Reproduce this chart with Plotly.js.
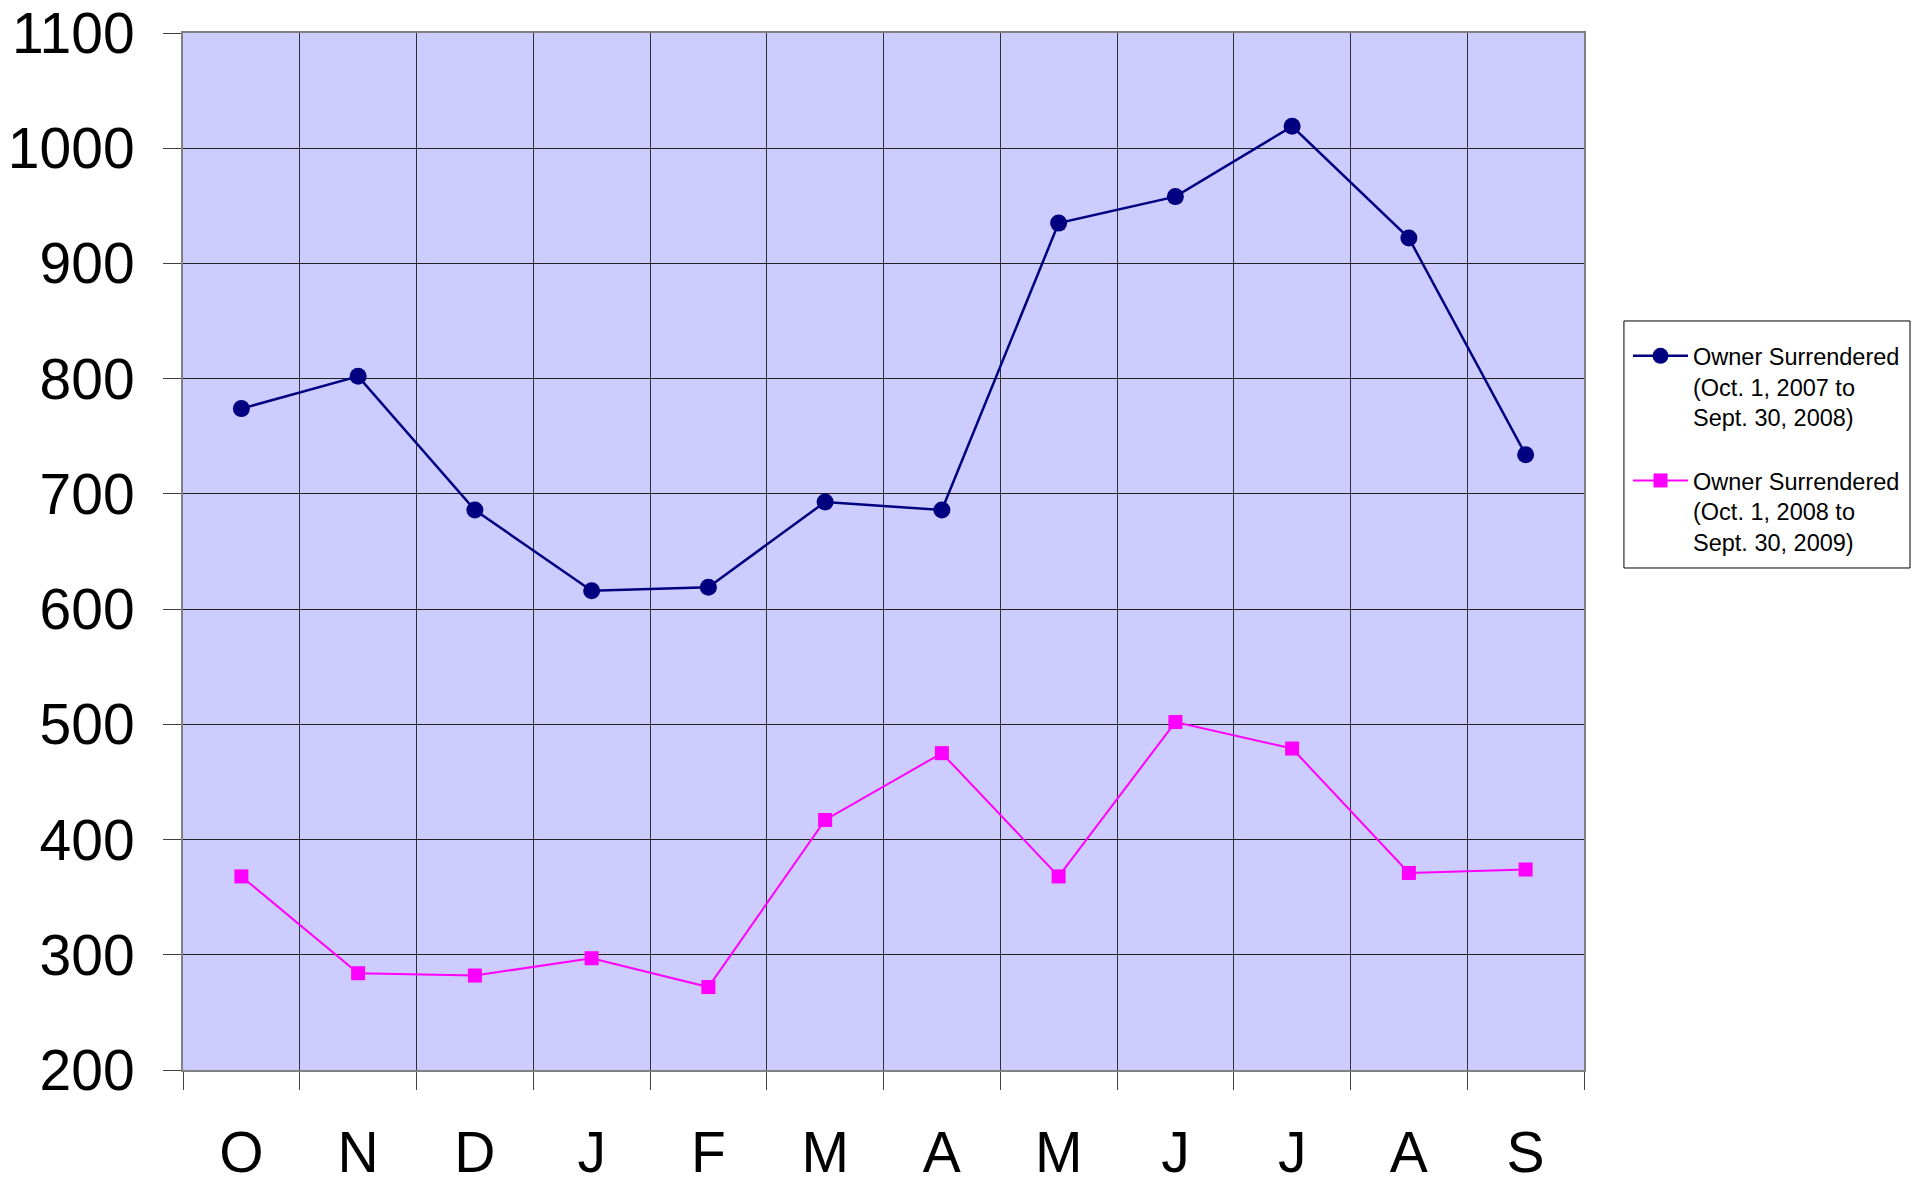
<!DOCTYPE html>
<html>
<head>
<meta charset="utf-8">
<script src="https://cdn.plot.ly/plotly-3.0.1.min.js"></script>
<style>
  html, body { margin: 0; padding: 0; background: #ffffff; }
  #chart { width: 1928px; height: 1178px; }
</style>
</head>
<body>
<div id="chart"></div>
<script>
const months = ["O", "N", "D", "J", "F", "M", "A", "M", "J", "J", "A", "S"];
const monthKeys = ["Oct", "Nov", "Dec", "Jan", "Feb", "Mar", "Apr", "May", "Jun", "Jul", "Aug", "Sep"];
const surrendered0708 = [774, 802, 686, 616, 619, 693, 686, 935, 958, 1019, 922, 734];
const surrendered0809 = [368, 284, 282, 297, 272, 417, 475, 368, 502, 479, 371, 374];
const name0708 = "Owner Surrendered<br>(Oct. 1, 2007 to<br>Sept. 30, 2008)";
const name0809 = "Owner Surrendered<br>(Oct. 1, 2008 to<br>Sept. 30, 2009)";
const yTicks = [200, 300, 400, 500, 600, 700, 800, 900, 1000, 1100];

const FONT = "Liberation Sans, Arial, sans-serif";

const traces = [
  {
    x: monthKeys, y: surrendered0708, name: name0708,
    type: "scatter", mode: "lines+markers", legendgroup: "a",
    line: { color: "#000080", width: 2.5 },
    marker: { color: "#000080", symbol: "circle", size: 17 }
  },
  {
    x: monthKeys, y: surrendered0809, name: name0809,
    type: "scatter", mode: "lines+markers", legendgroup: "b",
    line: { color: "#FF00FF", width: 2 },
    marker: { color: "#FF00FF", symbol: "square", size: 14 }
  }
];

const layout = {
  width: 1928, height: 1178,
  margin: { l: 183, r: 344, t: 33, b: 108, pad: 0 },
  paper_bgcolor: "#ffffff",
  plot_bgcolor: "#CCCCFF",
  font: { family: FONT, color: "#000000" },
  showlegend: true,
  legend: {
    x: 1.0314, y: 0.7097, xanchor: "left", yanchor: "top",
    borderwidth: 0, bgcolor: "rgba(0,0,0,0)",
    font: { family: FONT, size: 23.5, color: "#000000" },
    valign: "top", tracegroupgap: 30, traceorder: "grouped",
    itemwidth: 55
  },
  shapes: [
    {
      type: "rect", xref: "paper", yref: "paper",
      x0: 1.0285, x1: 1.2327, y0: 0.4841, y1: 0.7223,
      line: { color: "#000000", width: 1 },
      fillcolor: "rgba(0,0,0,0)", layer: "above"
    }
  ],
  xaxis: {
    type: "category",
    range: [-0.5, 11.5],
    tickvals: monthKeys, ticktext: months,
    tickson: "boundaries",
    ticks: "outside", ticklen: 18, tickwidth: 1, tickcolor: "#404040",
    showgrid: true, gridcolor: "#303030", gridwidth: 1,
    showline: true, linecolor: "#808080", linewidth: 2, mirror: true,
    tickfont: { family: FONT, size: 57, color: "#000000" },
    ticklabelstandoff: 32,
    zeroline: false, fixedrange: true
  },
  yaxis: {
    range: [200, 1100],
    tickvals: yTicks, ticktext: yTicks.map(String),
    ticks: "outside", ticklen: 18, tickwidth: 1, tickcolor: "#404040",
    showgrid: true, gridcolor: "#202020", gridwidth: 1,
    showline: true, linecolor: "#808080", linewidth: 2, mirror: true,
    tickfont: { family: FONT, size: 57, color: "#000000" },
    ticklabelstandoff: 17,
    zeroline: false, fixedrange: true
  }
};

Plotly.newPlot("chart", traces, layout, { displayModeBar: false, staticPlot: true });
</script>
</body>
</html>
